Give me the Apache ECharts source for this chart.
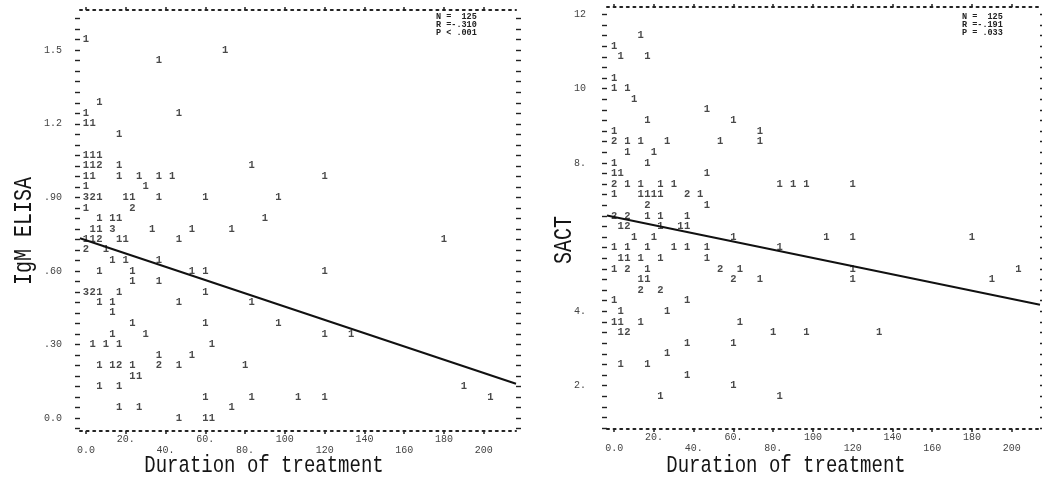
<!DOCTYPE html>
<html>
<head>
<meta charset="utf-8">
<script src="https://cdn.jsdelivr.net/npm/echarts@6/dist/echarts.min.js"></script>
<style>html,body{margin:0;padding:0;background:#fff}#c{width:1042px;height:500px}</style>
</head>
<body>
<div id="c"></div>
<script>
// ---- tick values / labels ----
const durationTicks = [0, 20, 40, 60, 80, 100, 120, 140, 160, 180, 200];
const durationTickLabels = ['0.0', '20.', '40.', '60.', '80.', '100', '120', '140', '160', '180', '200'];
const igmTicks = [0, 0.3, 0.6, 0.9, 1.2, 1.5];
const igmTickLabels = ['0.0', '.30', '.60', '.90', '1.2', '1.5'];
const sactTicks = [2, 4, 8, 10, 12];
const sactTickLabels = ['2.', '4.', '8.', '10', '12'];

// ---- data: [duration of treatment, value, number of cases printed at that cell] ----
const igmPoints = [
  [0,1.543,1],
  [70,1.5,1],
  [36.7,1.457,1],
  [6.7,1.286,1],
  [0,1.243,1],[46.7,1.243,1],
  [0,1.2,1],[3.3,1.2,1],
  [16.7,1.157,1],
  [0,1.071,1],[3.3,1.071,1],[6.7,1.071,1],
  [0,1.029,1],[3.3,1.029,1],[6.7,1.029,2],[16.7,1.029,1],[83.3,1.029,1],
  [0,0.986,1],[3.3,0.986,1],[16.7,0.986,1],[26.7,0.986,1],[36.7,0.986,1],[43.3,0.986,1],[120,0.986,1],
  [0,0.943,1],[30,0.943,1],
  [0,0.9,3],[3.3,0.9,2],[6.7,0.9,1],[20,0.9,1],[23.3,0.9,1],[36.7,0.9,1],[60,0.9,1],[96.7,0.9,1],
  [0,0.857,1],[23.3,0.857,2],
  [6.7,0.814,1],[13.3,0.814,1],[16.7,0.814,1],[90,0.814,1],
  [3.3,0.771,1],[6.7,0.771,1],[13.3,0.771,3],[33.3,0.771,1],[53.3,0.771,1],[73.3,0.771,1],
  [0,0.729,1],[3.3,0.729,1],[6.7,0.729,2],[16.7,0.729,1],[20,0.729,1],[46.7,0.729,1],[180,0.729,1],
  [0,0.686,2],[10,0.686,1],
  [13.3,0.643,1],[20,0.643,1],[36.7,0.643,1],
  [6.7,0.6,1],[23.3,0.6,1],[53.3,0.6,1],[60,0.6,1],[120,0.6,1],
  [23.3,0.557,1],[36.7,0.557,1],
  [0,0.514,3],[3.3,0.514,2],[6.7,0.514,1],[16.7,0.514,1],[60,0.514,1],
  [6.7,0.471,1],[13.3,0.471,1],[46.7,0.471,1],[83.3,0.471,1],
  [13.3,0.429,1],
  [23.3,0.386,1],[60,0.386,1],[96.7,0.386,1],
  [13.3,0.343,1],[30,0.343,1],[120,0.343,1],[133.3,0.343,1],
  [3.3,0.3,1],[10,0.3,1],[16.7,0.3,1],[63.3,0.3,1],
  [36.7,0.257,1],[53.3,0.257,1],
  [6.7,0.214,1],[13.3,0.214,1],[16.7,0.214,2],[23.3,0.214,1],[36.7,0.214,2],[46.7,0.214,1],[80,0.214,1],
  [23.3,0.171,1],[26.7,0.171,1],
  [6.7,0.129,1],[16.7,0.129,1],[190,0.129,1],
  [60,0.086,1],[83.3,0.086,1],[106.7,0.086,1],[120,0.086,1],[203.3,0.086,1],
  [16.7,0.043,1],[26.7,0.043,1],[73.3,0.043,1],
  [46.7,0,1],[60,0,1],[63.3,0,1]
];
const sactPoints = [
  [13.3,11.429,1],
  [0,11.143,1],
  [3.3,10.857,1],[16.7,10.857,1],
  [0,10.286,1],
  [0,10,1],[6.7,10,1],
  [10,9.714,1],
  [46.7,9.429,1],
  [16.7,9.143,1],[60,9.143,1],
  [0,8.857,1],[73.3,8.857,1],
  [0,8.571,2],[6.7,8.571,1],[13.3,8.571,1],[26.7,8.571,1],[53.3,8.571,1],[73.3,8.571,1],
  [6.7,8.286,1],[20,8.286,1],
  [0,8,1],[16.7,8,1],
  [0,7.714,1],[3.3,7.714,1],[46.7,7.714,1],
  [0,7.429,2],[6.7,7.429,1],[13.3,7.429,1],[23.3,7.429,1],[30,7.429,1],[83.3,7.429,1],[90,7.429,1],[96.7,7.429,1],[120,7.429,1],
  [0,7.143,1],[13.3,7.143,1],[16.7,7.143,1],[20,7.143,1],[23.3,7.143,1],[36.7,7.143,2],[43.3,7.143,1],
  [16.7,6.857,2],[46.7,6.857,1],
  [0,6.571,2],[6.7,6.571,2],[16.7,6.571,1],[23.3,6.571,1],[36.7,6.571,1],
  [3.3,6.286,1],[6.7,6.286,2],[23.3,6.286,1],[33.3,6.286,1],[36.7,6.286,1],
  [10,6,1],[20,6,1],[60,6,1],[106.7,6,1],[120,6,1],[180,6,1],
  [0,5.714,1],[6.7,5.714,1],[16.7,5.714,1],[30,5.714,1],[36.7,5.714,1],[46.7,5.714,1],[83.3,5.714,1],
  [3.3,5.429,1],[6.7,5.429,1],[13.3,5.429,1],[23.3,5.429,1],[46.7,5.429,1],
  [0,5.143,1],[6.7,5.143,2],[16.7,5.143,1],[53.3,5.143,2],[63.3,5.143,1],[120,5.143,1],[203.3,5.143,1],
  [13.3,4.857,1],[16.7,4.857,1],[60,4.857,2],[73.3,4.857,1],[120,4.857,1],[190,4.857,1],
  [13.3,4.571,2],[23.3,4.571,2],
  [0,4.286,1],[36.7,4.286,1],
  [3.3,4,1],[26.7,4,1],
  [0,3.714,1],[3.3,3.714,1],[13.3,3.714,1],[63.3,3.714,1],
  [3.3,3.429,1],[6.7,3.429,2],[80,3.429,1],[96.7,3.429,1],[133.3,3.429,1],
  [36.7,3.143,1],[60,3.143,1],
  [26.7,2.857,1],
  [3.3,2.571,1],[16.7,2.571,1],
  [36.7,2.286,1],
  [60,2,1],
  [23.3,1.714,1],[83.3,1.714,1]
];
// regression lines (end points as printed)
const igmFit = [[-3.0, 0.733], [216.2, 0.140]];
const sactFit = [[-3.6, 6.58], [214.2, 4.18]];
const igmStats = ['N =  125', 'R =-.310', 'P < .001'];
const sactStats = ['N =  125', 'R =-.191', 'P = .033'];

// ---- chart ----
const MONO = '"Liberation Mono", "DejaVu Sans Mono", monospace';
const INK = '#222';

function rowTicks(min, max, step) {
  const out = [];
  for (let k = Math.ceil(min / step - 1e-9); k * step <= max + 1e-9; k++) out.push(+(k * step).toFixed(6));
  return out;
}
function xAxesFor(gridIndex, min, max) {
  const line = { show: true, onZero: false, lineStyle: { color: INK, width: 2, type: [2, 4.6] } };
  const tick = { show: true, customValues: durationTicks, length: 3, lineStyle: { color: INK, width: 1.5 } };
  return [
    { type: 'value', gridIndex, position: 'bottom', min, max, axisLine: line, axisTick: tick, splitLine: { show: false },
      axisLabel: { show: true, customValues: durationTicks, margin: 3, fontFamily: MONO, fontSize: 10, color: '#444', lineHeight: 11,
        formatter: v => { const i = durationTicks.indexOf(v); const t = i >= 0 ? durationTickLabels[i] : ''; return i % 2 ? t : '\n' + t; } } },
    { type: 'value', gridIndex, position: 'top', min, max, axisLine: line, axisTick: tick, splitLine: { show: false }, axisLabel: { show: false } }
  ];
}
function yAxesFor(gridIndex, min, max, rows, ticks, labels, margin) {
  const tick = { show: true, customValues: rows, length: 5, lineStyle: { color: INK, width: 1.4 } };
  return [
    { type: 'value', gridIndex, position: 'left', min, max, axisLine: { show: false, onZero: false }, axisTick: tick, splitLine: { show: false },
      axisLabel: { show: true, customValues: ticks, margin, fontFamily: MONO, fontSize: 10, color: '#444',
        formatter: v => { const i = ticks.indexOf(v); return i >= 0 ? labels[i] : ''; } } },
    { type: 'value', gridIndex, position: 'right', min, max, axisLine: { show: false, onZero: false }, axisTick: tick, splitLine: { show: false }, axisLabel: { show: false } }
  ];
}
function pointSeries(xi, yi, pts) {
  return { type: 'scatter', xAxisIndex: xi, yAxisIndex: yi, data: pts, symbolSize: 1, silent: true,
    itemStyle: { color: 'transparent' },
    label: { show: true, position: 'inside', formatter: p => String(p.value[2]), fontFamily: MONO, fontWeight: 'bold', fontSize: 10.5, color: '#1a1a1a' },
    labelLayout: { hideOverlap: false }, z: 3 };
}
function fitSeries(xi, yi, pts) {
  return { type: 'line', xAxisIndex: xi, yAxisIndex: yi, data: pts, symbol: 'none', silent: true,
    lineStyle: { color: '#111', width: 2 }, z: 4 };
}
function textEl(x, y, text, size, extra) {
  return Object.assign({ type: 'text', x, y, silent: true, scaleY: 1.25,
    style: { text, fontFamily: MONO, fontSize: size, fill: '#151515', align: 'center', verticalAlign: 'middle' } }, extra || {});
}

const igmRange = [-0.053, 1.664];
const sactRange = [0.83, 12.2];

const option = {
  backgroundColor: '#fff',
  animation: false,
  grid: [
    { left: 80, top: 10, width: 436, height: 421 },
    { left: 607, top: 7, width: 433, height: 422 }
  ],
  xAxis: [].concat(xAxesFor(0, -3.0, 216.2), xAxesFor(1, -3.6, 214.2)),
  yAxis: [].concat(
    yAxesFor(0, igmRange[0], igmRange[1], rowTicks(igmRange[0], igmRange[1], 0.3 / 7), igmTicks, igmTickLabels, 18),
    yAxesFor(1, sactRange[0], sactRange[1], rowTicks(sactRange[0], sactRange[1], 2 / 7), sactTicks, sactTickLabels, 21)
  ),
  series: [
    pointSeries(0, 0, igmPoints),
    fitSeries(0, 0, igmFit),
    pointSeries(2, 2, sactPoints),
    fitSeries(2, 2, sactFit)
  ],
  graphic: [
    textEl(24, 231, 'IgM ELISA', 20, { rotation: Math.PI / 2 }),
    textEl(564, 240, 'SACT', 20, { rotation: Math.PI / 2 }),
    textEl(264, 466, 'Duration of treatment', 19),
    textEl(786, 466, 'Duration of treatment', 19),
    { type: 'text', x: 436, y: 13, silent: true,
      style: { text: igmStats.join('\n'), fontFamily: MONO, fontWeight: 'bold', fontSize: 8.5, lineHeight: 8, fill: INK, align: 'left', verticalAlign: 'top' } },
    { type: 'text', x: 962, y: 13, silent: true,
      style: { text: sactStats.join('\n'), fontFamily: MONO, fontWeight: 'bold', fontSize: 8.5, lineHeight: 8, fill: INK, align: 'left', verticalAlign: 'top' } }
  ]
};
const chart = echarts.init(document.getElementById('c'), null, { renderer: 'canvas' });
chart.setOption(option);
</script>
</body>
</html>
